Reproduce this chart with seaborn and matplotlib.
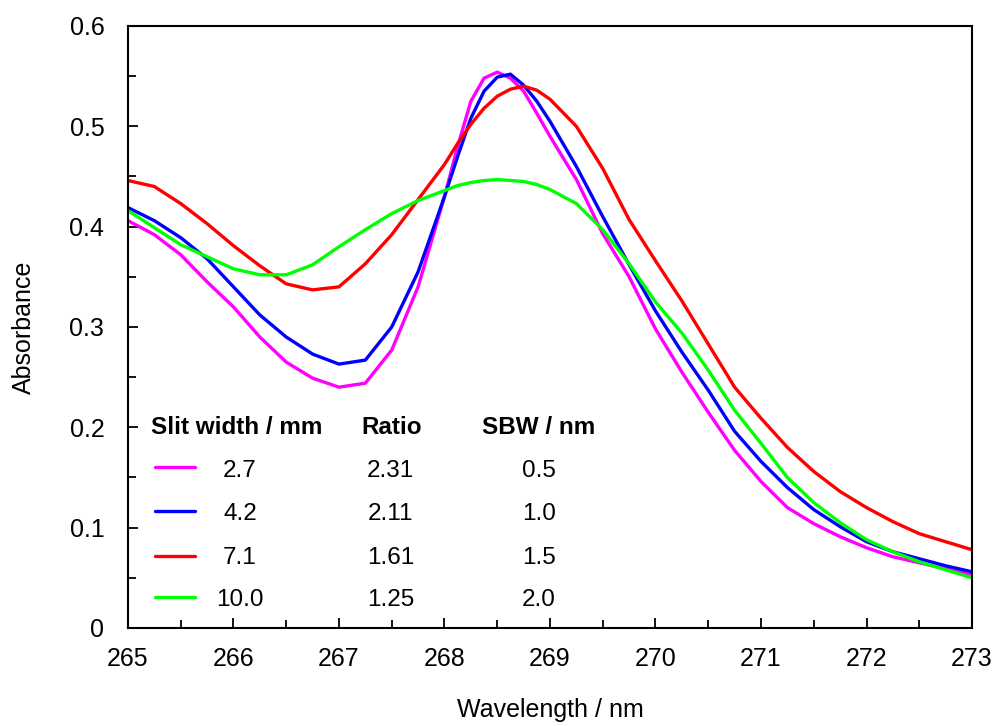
import numpy as np
import pandas as pd
import matplotlib
matplotlib.use("Agg")
import matplotlib.pyplot as plt
from matplotlib.lines import Line2D
from matplotlib.ticker import MultipleLocator
import seaborn as sns

# ---------------- data ----------------
wavelength = [265.00, 265.25, 265.50, 265.75, 266.00, 266.25, 266.50, 266.75,
              267.00, 267.25, 267.50, 267.75, 268.00, 268.125, 268.25, 268.375,
              268.50, 268.625, 268.75, 268.875,
              269.00, 269.25, 269.50, 269.75, 270.00, 270.25, 270.50, 270.75,
              271.00, 271.25, 271.50, 271.75, 272.00, 272.25, 272.50, 272.75,
              273.00]

abs_2_7 = [0.406, 0.392, 0.372, 0.345, 0.320, 0.290, 0.265, 0.249,
           0.240, 0.244, 0.277, 0.340, 0.430, 0.480, 0.525, 0.548,
           0.554, 0.548, 0.535, 0.513,
           0.490, 0.447, 0.393, 0.350, 0.298, 0.255, 0.215, 0.177,
           0.146, 0.120, 0.104, 0.091, 0.080, 0.071, 0.065, 0.059,
           0.053]

abs_4_2 = [0.419, 0.406, 0.389, 0.368, 0.340, 0.312, 0.290, 0.273,
           0.263, 0.267, 0.300, 0.355, 0.430, 0.470, 0.508, 0.535,
           0.549, 0.552, 0.541, 0.525,
           0.505, 0.460, 0.410, 0.362, 0.316, 0.275, 0.237, 0.196,
           0.166, 0.140, 0.118, 0.101, 0.086, 0.076, 0.069, 0.062,
           0.056]

abs_7_1 = [0.446, 0.440, 0.423, 0.403, 0.381, 0.361, 0.343, 0.337,
           0.340, 0.363, 0.392, 0.427, 0.462, 0.483, 0.502, 0.518,
           0.530, 0.537, 0.540, 0.536,
           0.527, 0.500, 0.458, 0.407, 0.366, 0.326, 0.283, 0.240,
           0.209, 0.180, 0.156, 0.136, 0.120, 0.106, 0.094, 0.086,
           0.078]

abs_10_0 = [0.416, 0.399, 0.382, 0.370, 0.358, 0.352, 0.352, 0.362,
            0.380, 0.397, 0.413, 0.426, 0.436, 0.441, 0.444, 0.446,
            0.447, 0.446, 0.445, 0.442,
            0.437, 0.423, 0.397, 0.363, 0.325, 0.294, 0.257, 0.217,
            0.184, 0.150, 0.125, 0.105, 0.088, 0.076, 0.066, 0.058,
            0.050]

slit_widths = ["2.7", "4.2", "7.1", "10.0"]
ratios = ["2.31", "2.11", "1.61", "1.25"]
sbw = ["0.5", "1.0", "1.5", "2.0"]
colors = ["#FF00FF", "#0000FF", "#FF0000", "#00FF00"]

x_ticks = [265, 266, 267, 268, 269, 270, 271, 272, 273]
y_ticks = [0, 0.1, 0.2, 0.3, 0.4, 0.5, 0.6]
y_ticklabels = ["0", "0.1", "0.2", "0.3", "0.4", "0.5", "0.6"]

series = [abs_2_7, abs_4_2, abs_7_1, abs_10_0]
df = pd.concat([pd.DataFrame({"Wavelength": wavelength, "Absorbance": s, "Slit": sw})
                for s, sw in zip(series, slit_widths)], ignore_index=True)

# ---------------- style ----------------
sns.set_theme(style="ticks")
plt.rcParams["font.family"] = ["Liberation Sans", "DejaVu Sans"]
plt.rcParams["text.color"] = "black"
plt.rcParams["axes.labelcolor"] = "black"
plt.rcParams["xtick.color"] = "black"
plt.rcParams["ytick.color"] = "black"
plt.rcParams["axes.linewidth"] = 1.5

fig = plt.figure(figsize=(9.95, 7.26), dpi=100)
ax = fig.add_axes([0.1286, 0.135, 0.8483, 0.8292])

sns.lineplot(data=df, x="Wavelength", y="Absorbance", hue="Slit",
             hue_order=slit_widths, palette=dict(zip(slit_widths, colors)),
             linewidth=2.4, legend=False, ax=ax, sort=False)

ax.set_xlim(265, 273)
ax.set_ylim(0, 0.6)
ax.set_xticks(x_ticks)
ax.set_xticklabels([str(t) for t in x_ticks])
ax.set_yticks(y_ticks)
ax.set_yticklabels(y_ticklabels)
ax.xaxis.set_minor_locator(MultipleLocator(0.5))
ax.yaxis.set_minor_locator(MultipleLocator(0.05))

for s in ax.spines.values():
    s.set_visible(True)
    s.set_linewidth(1.5)
    s.set_color("black")

ax.tick_params(axis="both", which="major", direction="in", length=7, width=1.3,
               labelsize=18, colors="black")
ax.tick_params(axis="both", which="minor", direction="in", length=6, width=1.3,
               colors="black")
ax.tick_params(axis="x", which="major", pad=14)
ax.tick_params(axis="y", which="major", pad=17)
ax.tick_params(top=False, right=False, which="both")

ax.set_xlabel("Wavelength / nm", fontsize=18, labelpad=19, color="black")
ax.set_ylabel("Absorbance", fontsize=18, labelpad=24, color="black")

# ---------------- table-style legend ----------------
tr = ax.transAxes
fs = 17.5
ax.text(0.0275, 0.323, "Slit width / mm", transform=tr, fontsize=fs,
        fontweight="bold", ha="left", va="baseline", color="black")
ax.text(0.3125, 0.323, "Ratio", transform=tr, fontsize=fs,
        fontweight="bold", ha="center", va="baseline", color="black")
ax.text(0.487, 0.323, "SBW / nm", transform=tr, fontsize=fs,
        fontweight="bold", ha="center", va="baseline", color="black")

row_line_y = [0.267, 0.194, 0.120, 0.0515]
row_text_y = [0.250, 0.1786, 0.107, 0.0357]
for i in range(4):
    ax.add_line(Line2D([0.032, 0.079], [row_line_y[i], row_line_y[i]],
                       transform=tr, color=colors[i], linewidth=2.4))
    ax.text(0.1327, row_text_y[i], slit_widths[i], transform=tr, fontsize=fs,
            ha="center", va="baseline", color="black")
    ax.text(0.311, row_text_y[i], ratios[i], transform=tr, fontsize=fs,
            ha="center", va="baseline", color="black")
    ax.text(0.487, row_text_y[i], sbw[i], transform=tr, fontsize=fs,
            ha="center", va="baseline", color="black")

fig.savefig("out.png", dpi=100, facecolor="white")
